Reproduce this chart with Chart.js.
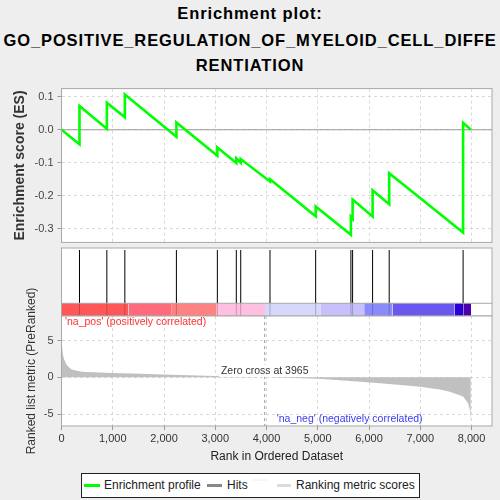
<!DOCTYPE html>
<html>
<head>
<meta charset="utf-8">
<title>Enrichment plot</title>
<script src="https://cdn.jsdelivr.net/npm/chart.js@4.4.1/dist/chart.umd.min.js"></script>
<style>
body { margin: 0; background: #eeeeee; font-family: "Liberation Sans", Arial, sans-serif; }
#wrap { position: relative; width: 500px; height: 500px; overflow: hidden; }
.panel { position: absolute; left: 0; width: 500px; }
.judul { position: absolute; left: 0; width: 500px; text-align: center; font-weight: bold;
         font-size: 16.5px; letter-spacing: 0.9px; line-height: 20px; color: #000; white-space: nowrap; }
#legend { position: absolute; left: 81px; top: 473px; width: 337px; height: 23px;
          background: #fff; border: 1px solid #222; font-size: 12px; color: #222; }
#legend .garis { position: absolute; height: 3px; top: 10px; }
#legend .teks { position: absolute; top: 4px; line-height: 14px; white-space: nowrap; }
</style>
</head>
<body>
<div id="wrap">
  <div class="judul" style="top:3.3px">Enrichment plot:</div>
  <div class="judul" style="top:30px">GO_POSITIVE_REGULATION_OF_MYELOID_CELL_DIFFE</div>
  <div class="judul" style="top:55px">RENTIATION</div>

  <div class="panel" style="top:78px;height:175px"><canvas id="chartES" width="500" height="175"></canvas></div>
  <div class="panel" style="top:244px;height:76px"><canvas id="chartHits" width="500" height="76"></canvas></div>
  <div class="panel" style="top:280px;height:190px"><canvas id="chartMetric" width="500" height="190"></canvas></div>

  <div id="legend">
    <div class="garis" style="left:2px;width:16px;background:#00ff00"></div>
    <div class="teks" style="left:22px">Enrichment profile</div>
    <div class="garis" style="left:125px;width:15px;background:#888"></div>
    <div class="teks" style="left:145px">Hits</div>
    <div class="garis" style="left:171px;width:14px;top:5px;height:2px;background:#f6f6f6"></div>
    <div class="garis" style="left:195px;width:14px;background:#dcdcdc"></div>
    <div class="teks" style="left:214px">Ranking metric scores</div>
  </div>
</div>

<script>
// Kurva enrichment score (titik sudut di setiap hit)
const esRank  = [0, 351, 351, 885, 885, 1236, 1236, 2242, 2242, 3041, 3041, 3411, 3411, 3497, 3497,
                 4068, 4068, 4959, 4959, 5647, 5647, 5680, 5680, 6070, 6070, 6394, 6394, 7836, 7836, 7990];
const esValue = [0, -0.044, 0.072, 0.003, 0.082, 0.038, 0.107, -0.021, 0.022, -0.079, -0.054, -0.101, -0.087, -0.100, -0.089,
                 -0.157, -0.150, -0.263, -0.233, -0.319, -0.264, -0.270, -0.212, -0.263, -0.184, -0.226, -0.132, -0.312, 0.021, 0.0];

// Posisi gen (hits)
const hitRanks = [351, 885, 1236, 2242, 3041, 3411, 3497, 4068, 4959, 5647, 5680, 6070, 6394, 7836];

// Ranked list metric
const metricRank  = [0, 10, 30, 60, 105, 150, 200, 300, 400, 600, 1000, 1370, 2000, 2150, 3000, 3500, 3965,
                     4500, 5000, 5433, 6213, 6733, 6992, 7382, 7577, 7836, 7934, 7970, 7987];
const metricValue = [5.2, 4.2, 3.0, 2.3, 1.67, 1.35, 1.08, 0.9, 0.76, 0.68, 0.6, 0.54, 0.4, 0.35, 0.2, 0.1, 0,
                     -0.1, -0.2, -0.4, -0.8, -1.09, -1.27, -1.63, -1.95, -2.6, -3.5, -4.5, -6.0];
const zeroCross = 3965;

// Batas segmen warna di bar peringkat
const barEdges  = [0, 1306, 2138, 3029, 3971, 5062, 5906, 6460, 7668, 7844, 7992];
const barColors = ['#ff5757', '#ff6a7c', '#ff8282', '#ffbfe1', '#d7d7fc', '#c7c0fa', '#8a8afa', '#6a58ee', '#2a00d6', '#4a00aa'];

// Label sumbu
const esTicks     = [-0.3, -0.2, -0.1, 0.0, 0.1];
const metricTicks = [-5, 0, 5];
const rankTicks   = [0, 1000, 2000, 3000, 4000, 5000, 6000, 7000, 8000];

const fontFam = '"Liberation Sans", Arial, sans-serif';
const gridAbu = '#d9d9d9';

// latar putih + bingkai area plot
const bingkai = {
    id: 'bingkai',
    beforeDraw(chart) {
        const a = chart.chartArea, ctx = chart.ctx;
        ctx.save();
        ctx.fillStyle = '#ffffff';
        ctx.fillRect(a.left, a.top, a.width, a.height);
        ctx.restore();
    },
    afterDraw(chart) {
        const a = chart.chartArea, ctx = chart.ctx;
        ctx.save();
        ctx.strokeStyle = '#a8a8a8';
        ctx.lineWidth = 1;
        ctx.strokeRect(a.left, a.top, a.width, a.height);
        ctx.restore();
    }
};

function sumbuY(ticks, fmt, judul, padJudul) {
    return {
        min: 0, max: 1,
        afterFit: (s) => { s.width = 61.5; },
        afterBuildTicks: (s) => { s.ticks = ticks.map(v => ({ value: v })); },
        border: { display: false, dash: [3, 3] },
        grid: { color: gridAbu, tickLength: 4, tickColor: '#999' },
        ticks: { padding: 4, color: '#444', font: { family: fontFam, size: 11 }, callback: fmt },
        title: { display: true, text: judul, color: '#333', padding: { top: padJudul, bottom: 0 } }
    };
}

window.onload = function () {
    // Grafik Enrichment Score
    const ctxES = document.getElementById('chartES');
    const yES = sumbuY(esTicks, v => Number(v).toFixed(1), 'Enrichment score (ES)', 11.6);
    yES.min = -0.342; yES.max = 0.125;
    yES.title.font = { family: fontFam, size: 14, weight: 'bold' };
    new Chart(ctxES.getContext('2d'), {
        type: 'line',
        data: {
            datasets: [{
                data: esRank.map((r, i) => ({ x: r, y: esValue[i] })),
                borderColor: '#00ff00',
                borderWidth: 2.6,
                pointRadius: 0,
                fill: false
            }]
        },
        options: {
            responsive: false, animation: false, events: [],
            layout: { padding: { top: 5.3, bottom: 5, left: 0, right: 8 } },
            plugins: { legend: { display: false }, tooltip: { enabled: false } },
            scales: {
                x: {
                    type: 'linear', min: 0, max: 8400,
                    afterFit: (s) => { s.height = 0; },
                    afterBuildTicks: (s) => { s.ticks = rankTicks.map(v => ({ value: v })); },
                    border: { display: false, dash: [3, 3] },
                    grid: { color: gridAbu, drawTicks: false },
                    ticks: { display: false }
                },
                y: yES
            }
        },
        plugins: [bingkai, {
            id: 'garisNol',
            beforeDatasetsDraw(chart) {
                const a = chart.chartArea, ctx = chart.ctx;
                const y0 = chart.scales.y.getPixelForValue(0);
                ctx.save();
                ctx.strokeStyle = '#999';
                ctx.lineWidth = 1;
                ctx.beginPath(); ctx.moveTo(a.left, y0); ctx.lineTo(a.right, y0); ctx.stroke();
                ctx.restore();
            }
        }]
    });

    // Grafik Hits + bar warna
    const barTop = 0.187, hitTop = 0.97;
    const ctxHits = document.getElementById('chartHits');
    const dsHits = [{
        data: hitRanks.flatMap(r => [{ x: r, y: barTop }, { x: r, y: hitTop }, { x: r, y: null }]),
        borderColor: '#000000', borderWidth: 1, pointRadius: 0, spanGaps: false, fill: false
    }, {
        data: hitRanks.flatMap(r => [{ x: r, y: 0 }, { x: r, y: barTop }, { x: r, y: null }]),
        borderColor: 'rgba(0,0,0,0.22)', borderWidth: 1, pointRadius: 0, spanGaps: false, fill: false
    }];
    barColors.forEach((c, i) => {
        dsHits.push({
            data: [{ x: barEdges[i], y: barTop }, { x: barEdges[i + 1], y: barTop }],
            backgroundColor: c, borderWidth: 0, pointRadius: 0, fill: 'origin'
        });
    });
    new Chart(ctxHits.getContext('2d'), {
        type: 'line',
        data: { datasets: dsHits },
        options: {
            responsive: false, animation: false, events: [],
            layout: { padding: { top: 4, bottom: 4, left: 61.5, right: 8 } },
            plugins: { legend: { display: false }, tooltip: { enabled: false } },
            scales: {
                x: { type: 'linear', min: 0, max: 8400, display: false },
                y: { min: 0, max: 1, display: false }
            }
        },
        plugins: [bingkai, {
            id: 'pemisah',
            afterDraw(chart) {
                const a = chart.chartArea, ctx = chart.ctx;
                const yb = chart.scales.y.getPixelForValue(barTop);
                ctx.save();
                ctx.strokeStyle = '#a8a8a8';
                ctx.lineWidth = 1;
                ctx.beginPath(); ctx.moveTo(a.left, yb); ctx.lineTo(a.right, yb); ctx.stroke();
                ctx.restore();
            }
        }]
    });

    // Grafik Ranked list metric
    const ctxMetric = document.getElementById('chartMetric');
    const yM = sumbuY(metricTicks, v => String(v), 'Ranked list metric (PreRanked)', 24.8);
    yM.min = -6.6; yM.max = 8.33;
    yM.title.font = { family: fontFam, size: 12 };
    new Chart(ctxMetric.getContext('2d'), {
        type: 'line',
        data: {
            datasets: [{
                data: metricRank.map((r, i) => ({ x: r, y: metricValue[i] })),
                backgroundColor: '#c0c0c0',
                borderColor: '#c0c0c0',
                borderWidth: 0,
                pointRadius: 0,
                fill: 'origin'
            }]
        },
        options: {
            responsive: false, animation: false, events: [],
            layout: { padding: { top: 36, bottom: 0, left: 0, right: 8 } },
            plugins: { legend: { display: false }, tooltip: { enabled: false } },
            scales: {
                x: {
                    type: 'linear', min: 0, max: 8400,
                    afterFit: (s) => { s.height = 44; },
                    afterBuildTicks: (s) => { s.ticks = rankTicks.map(v => ({ value: v })); },
                    border: { display: false, dash: [3, 3] },
                    grid: { color: gridAbu, tickLength: 4, tickColor: '#999' },
                    ticks: { padding: 2, color: '#333', maxRotation: 0, font: { family: fontFam, size: 11 },
                             callback: v => Number(v).toLocaleString('en-US') },
                    title: { display: true, text: 'Rank in Ordered Dataset', color: '#222',
                             font: { family: fontFam, size: 12 }, padding: { top: 0, bottom: 6.1 } }
                },
                y: yM
            }
        },
        plugins: [bingkai, {
            id: 'keterangan',
            afterDatasetsDraw(chart) {
                const a = chart.chartArea, ctx = chart.ctx;
                const xz = chart.scales.x.getPixelForValue(zeroCross);
                const y0 = chart.scales.y.getPixelForValue(0);
                ctx.save();
                // garis zero cross
                ctx.strokeStyle = '#999';
                ctx.setLineDash([3, 3]);
                ctx.beginPath(); ctx.moveTo(xz, a.top); ctx.lineTo(xz, a.bottom); ctx.stroke();
                ctx.setLineDash([]);
                // label zero cross
                ctx.font = '10.5px ' + fontFam;
                ctx.textAlign = 'center';
                ctx.textBaseline = 'middle';
                const teks = 'Zero cross at ' + zeroCross;
                const w = ctx.measureText(teks).width;
                ctx.fillStyle = '#ffffff';
                ctx.fillRect(xz - w / 2 - 2, y0 - 13, w + 4, 12.5);
                ctx.fillStyle = '#333';
                ctx.fillText(teks, xz, y0 - 6.6);
                // label kelas
                ctx.textAlign = 'left';
                ctx.fillStyle = '#ff3030';
                ctx.fillText("'na_pos' (positively correlated)", a.left + 3.5, a.top + 5.7);
                ctx.fillStyle = '#3a3aee';
                ctx.fillText("'na_neg' (negatively correlated)", xz + 12, a.bottom - 7);
                ctx.restore();
            }
        }]
    });
};
</script>
</body>
</html>
